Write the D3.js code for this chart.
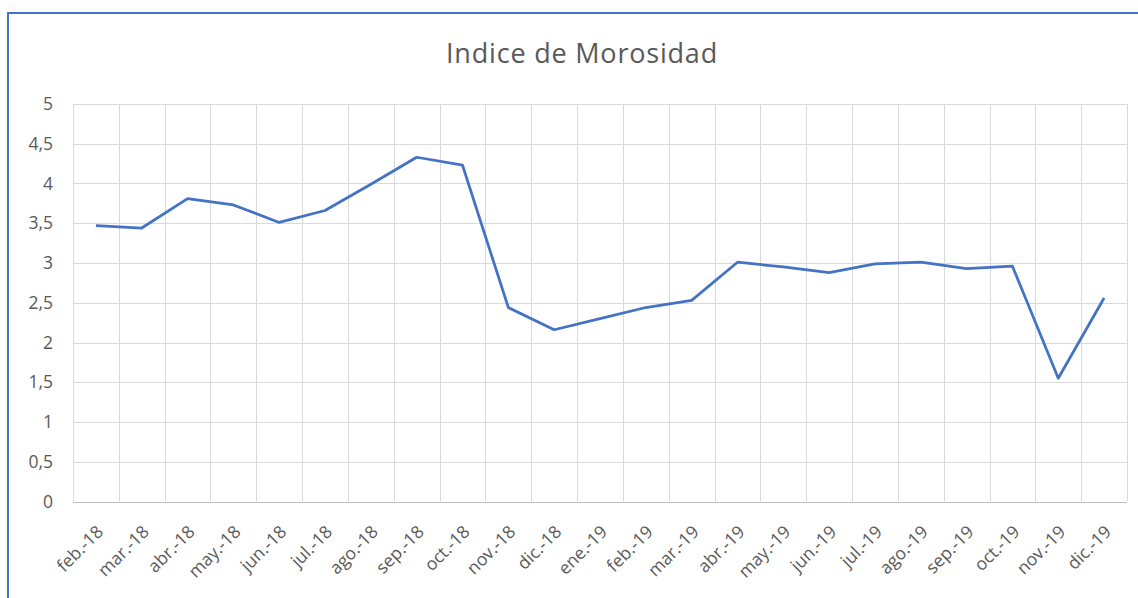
<!DOCTYPE html>
<html>
<head>
<meta charset="utf-8">
<script src="https://cdn.jsdelivr.net/npm/d3@7"></script>
<style>
  html, body { margin: 0; padding: 0; background: #fff; }
  svg { display: block; font-family: "Open Sans", "Noto Sans", sans-serif; }
</style>
</head>
<body>
<div id="chart"></div>
<script>
const months = ['feb.-18', 'mar.-18', 'abr.-18', 'may.-18', 'jun.-18', 'jul.-18', 'ago.-18',
  'sep.-18', 'oct.-18', 'nov.-18', 'dic.-18', 'ene.-19', 'feb.-19', 'mar.-19', 'abr.-19',
  'may.-19', 'jun.-19', 'jul.-19', 'ago.-19', 'sep.-19', 'oct.-19', 'nov.-19', 'dic.-19']
const morosidad = [3.47, 3.44, 3.81, 3.73, 3.51, 3.66, 3.99, 4.33, 4.23, 2.44, 2.16, 2.30,
  2.44, 2.53, 3.01, 2.95, 2.88, 2.99, 3.01, 2.93, 2.96, 1.55, 2.56]
const yTicks = [0, 0.5, 1, 1.5, 2, 2.5, 3, 3.5, 4, 4.5, 5]

const width = 1138
const height = 598
const margin = { top: 104, right: 11, bottom: 96.5, left: 73 }
const innerW = width - margin.left - margin.right
const innerH = height - margin.top - margin.bottom

const svg = d3.select('#chart').append('svg')
  .attr('width', width)
  .attr('height', height)

// chart area border (runs off the right and bottom edges)
svg.append('rect')
  .attr('x', 8)
  .attr('y', 13)
  .attr('width', 1140)
  .attr('height', 600)
  .attr('fill', '#fff')
  .attr('stroke', '#4472c4')
  .attr('stroke-width', 2)

svg.append('text')
  .attr('x', 582)
  .attr('y', 63)
  .attr('text-anchor', 'middle')
  .attr('fill', '#595959')
  .style('font-size', '27px')
  .style('letter-spacing', '0.8px')
  .text('Indice de Morosidad')

const g = svg.append('g')
  .attr('transform', `translate(${margin.left},${margin.top})`)

const x = d3.scaleBand()
  .domain(months)
  .range([0, innerW])
  .padding(0)

const y = d3.scaleLinear()
  .domain([0, 5])
  .range([innerH, 0])

// horizontal gridlines
g.append('g')
  .selectAll('line')
  .data(yTicks)
  .enter().append('line')
  .attr('x1', 0)
  .attr('x2', innerW)
  .attr('y1', (d) => Math.round(y(d)) + 0.5)
  .attr('y2', (d) => Math.round(y(d)) + 0.5)
  .attr('stroke', (d) => d === 0 ? '#bfbfbf' : '#d9d9d9')
  .attr('stroke-width', 1)

// vertical gridlines at category boundaries
const bounds = months.map((m) => x(m)).concat([innerW])
g.append('g')
  .selectAll('line')
  .data(bounds)
  .enter().append('line')
  .attr('x1', (d) => Math.round(d) + 0.5)
  .attr('x2', (d) => Math.round(d) + 0.5)
  .attr('y1', 0)
  .attr('y2', innerH)
  .attr('stroke', '#d9d9d9')
  .attr('stroke-width', 1)

// y axis labels
const yAxis = g.append('g')
  .call(d3.axisLeft(y).tickValues(yTicks).tickSize(0).tickPadding(20)
    .tickFormat((d) => String(d).replace('.', ',')))
yAxis.select('.domain').remove()
yAxis.selectAll('text')
  .attr('fill', '#595959')
  .style('font-size', '17.5px')
  .style('font-family', '"Open Sans", "Noto Sans", sans-serif')

// x axis labels
const xAxis = g.append('g')
  .attr('transform', `translate(0,${innerH})`)
  .call(d3.axisBottom(x).tickSize(0).tickPadding(0))
xAxis.select('.domain').remove()
xAxis.selectAll('text')
  .attr('fill', '#595959')
  .style('font-size', '17.5px')
  .style('font-family', '"Open Sans", "Noto Sans", sans-serif')
  .attr('text-anchor', 'end')
  .attr('y', 0)
  .attr('dy', '0.35em')
  .attr('transform', 'translate(4,27) rotate(-45)')

const line = d3.line()
  .x((d, i) => x(months[i]) + x.bandwidth() / 2)
  .y((d) => y(d))

g.append('path')
  .datum(morosidad)
  .attr('fill', 'none')
  .attr('stroke', '#4472c4')
  .attr('stroke-width', 2.75)
  .attr('stroke-linejoin', 'round')
  .attr('d', line)
</script>
</body>
</html>
